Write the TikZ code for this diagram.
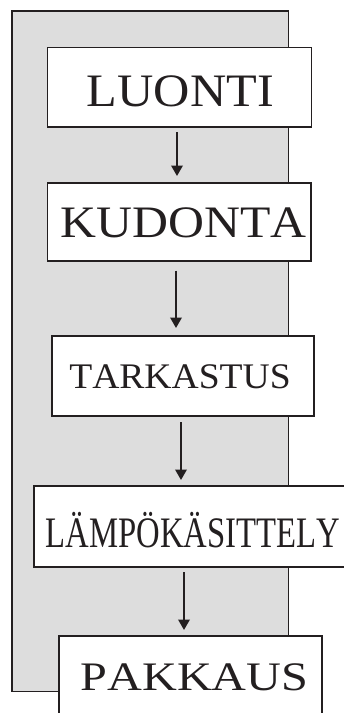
\documentclass[tikz,border=0pt]{standalone}
\usepackage{fontspec}
\setmainfont{Liberation Serif}[Kerning=Off]
\usepackage{graphicx}
\usetikzlibrary{arrows.meta}
\definecolor{panelgray}{HTML}{DDDDDD}
\definecolor{inkc}{HTML}{231F20}
\tikzset{
  panel/.style={draw=inkc, fill=panelgray, line width=1.4pt, inner sep=0pt, outer sep=0pt, rectangle},
  stepbox/.style={draw=inkc, fill=white, line width=1.6pt, inner sep=0pt, outer sep=0pt, rectangle},
  lbl/.style={anchor=base, inner sep=0pt, outer sep=0pt, text=inkc},
  flow/.style={draw=inkc, line width=2pt, -{Triangle[length=10.5pt,width=11.5pt]}},
}
\newcommand{\boxlab}[3]{\resizebox{#1}{\height}{\fontsize{#2}{#2}\selectfont #3}}
\begin{document}
\begin{tikzpicture}[x=1pt,y=-1pt]
\useasboundingbox (0,0) rectangle (344,713);
\clip (0,0) rectangle (344,713);
\node[panel, minimum width=276.3pt, minimum height=680.7pt] (bg) at (150.15,351.35) {};
\node[stepbox, minimum width=264pt, minimum height=79.4pt] (b1) at (179.3,87) {};
\node[stepbox, minimum width=263.7pt, minimum height=78pt] (b2) at (179.15,221.7) {};
\node[stepbox, minimum width=262pt, minimum height=80pt] (b3) at (183,376) {};
\node[stepbox, minimum width=316.3pt, minimum height=80.7pt] (b4) at (191.85,526.35) {};
\node[stepbox, minimum width=263pt, minimum height=94pt] (b5) at (190.2,683) {};
\node[lbl] (t1) at (180.5,106) {\boxlab{187pt}{46.5pt}{LUONTI}};
\node[lbl] (t2) at (183.7,237.3) {\boxlab{246pt}{45pt}{KUDONTA}};
\node[lbl] (t3) at (180,388.3) {\boxlab{221.4pt}{36pt}{TARKASTUS}};
\node[lbl] (t4) at (192.8,547.7) {\boxlab{294.3pt}{43.5pt}{LÄMPÖKÄSITTELY}};
\node[lbl] (t5) at (194.5,690.7) {\boxlab{227.7pt}{40.5pt}{PAKKAUS}};
\coordinate (x1) at (177,0);
\coordinate (x2) at (176,0);
\coordinate (x3) at (181,0);
\coordinate (x4) at (184,0);
\draw[flow, shorten <=5.3pt, shorten >=6.7pt] (b1.south -| x1) -- (b2.north -| x1);
\draw[flow, shorten <=10pt, shorten >=8pt] (b2.south -| x2) -- (b3.north -| x2);
\draw[flow, shorten <=6pt, shorten >=6pt] (b3.south -| x3) -- (b4.north -| x3);
\draw[flow, shorten <=5.3pt, shorten >=6pt] (b4.south -| x4) -- (b5.north -| x4);
\end{tikzpicture}
\end{document}
